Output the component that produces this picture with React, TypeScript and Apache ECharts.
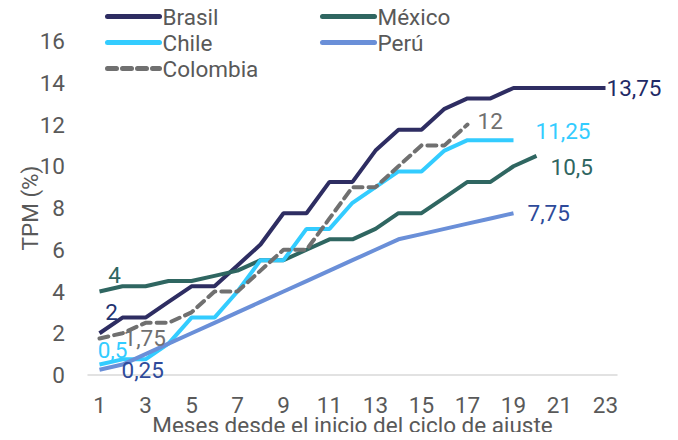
import React, { useEffect, useRef } from "react";
import * as echarts from "echarts";

// Months since the start of each tightening cycle
const months = Array.from({ length: 23 }, (_, i) => String(i + 1));

// Policy rate (TPM, %) by month of the cycle
const brasil = [2, 2.75, 2.75, 3.5, 4.25, 4.25, 5.25, 6.25, 7.75, 7.75, 9.25, 9.25, 10.75, 11.75, 11.75, 12.75, 13.25, 13.25, 13.75, 13.75, 13.75, 13.75, 13.75];
const mexico = [4, 4.25, 4.25, 4.5, 4.5, 4.75, 5, 5.5, 5.5, 6, 6.5, 6.5, 7, 7.75, 7.75, 8.5, 9.25, 9.25, 10, 10.5];
const chile = [0.5, 0.75, 0.75, 1.5, 2.75, 2.75, 4, 5.5, 5.5, 7, 7, 8.25, 9, 9.75, 9.75, 10.75, 11.25, 11.25, 11.25];
const peru = [0.25, 0.5, 1, 1.5, 2, 2.5, 3, 3.5, 4, 4.5, 5, 5.5, 6, 6.5, 6.75, 7, 7.25, 7.5, 7.75];
const colombia = [1.75, 2, 2.5, 2.5, 3, 4, 4, 5, 6, 6, 7.5, 9, 9, 10, 11, 11, 12];

const yTicks = [0, 2, 4, 6, 8, 10, 12, 14, 16];

const FONT = "Roboto";
const GREY = "#595959";
const FS = 22.5;

const fmt = (v: number) => String(v).replace(".", ",");

type LabelOpt = {
  color: string;
  position?: any;
  offset?: [number, number];
};

function withLabels(values: number[], start: LabelOpt, end: LabelOpt) {
  const last = values.length - 1;
  return values.map((v, i) => {
    const opt = i === 0 ? start : i === last ? end : null;
    if (!opt) return v;
    return {
      value: v,
      label: {
        show: true,
        formatter: (p: any) => fmt(p.value),
        color: opt.color,
        position: opt.position ?? "right",
        offset: opt.offset ?? [0, 0],
        distance: 0,
        fontFamily: FONT,
        fontSize: FS,
      },
    };
  });
}

function lineSeries(name: string, color: string, data: any[], dashed = false) {
  return {
    name,
    type: "line",
    data,
    symbol: "circle",
    symbolSize: 0,
    showSymbol: true,
    lineStyle: {
      color,
      width: 4,
      type: dashed ? [9, 6] : "solid",
      cap: dashed ? "round" : "butt",
    },
    itemStyle: { color },
    z: dashed ? 5 : 3,
  };
}

export default function App() {
  const ref = useRef<HTMLDivElement>(null);

  useEffect(() => {
    if (!ref.current) return;
    const chart = echarts.init(ref.current, null, { renderer: "svg" });

    const legendBase = {
      orient: "horizontal",
      itemWidth: 52,
      itemHeight: 6,
      itemGap: 6,
      itemStyle: { opacity: 0 },
      lineStyle: { width: 5, cap: "round" },
      textStyle: { fontFamily: FONT, fontSize: FS, color: GREY, padding: [0, 0, 0, -2] },
      padding: 0,
    };

    chart.setOption({
      animation: false,
      backgroundColor: "#ffffff",
      legend: [
        { ...legendBase, data: ["Brasil"], left: 105, top: 5 },
        { ...legendBase, data: ["México"], left: 320, top: 5 },
        { ...legendBase, data: ["Chile"], left: 105, top: 31 },
        { ...legendBase, data: ["Perú"], left: 320, top: 31 },
        { ...legendBase, data: ["Colombia"], left: 105, top: 57 },
      ],
      grid: { left: 88, right: 61, top: 41, bottom: 65, containLabel: false, outerBoundsMode: "none" },
      xAxis: {
        type: "category",
        data: months,
        boundaryGap: true,
        name: "Meses desde el inicio del ciclo de ajuste",
        nameLocation: "middle",
        nameGap: 38,
        nameMoveOverlap: false,
        nameTextStyle: { fontFamily: FONT, fontSize: FS, color: GREY },
        axisLine: { lineStyle: { color: "#d9d9d9", width: 1.5 } },
        axisTick: { show: false },
        axisLabel: {
          interval: 1,
          margin: 18,
          fontFamily: FONT,
          fontSize: FS,
          color: GREY,
        },
        splitLine: { show: false },
      },
      yAxis: {
        type: "value",
        min: yTicks[0],
        max: yTicks[yTicks.length - 1],
        interval: 2,
        name: "TPM (%)",
        nameLocation: "middle",
        nameGap: 47,
        nameMoveOverlap: false,
        nameRotate: 90,
        nameTextStyle: { fontFamily: FONT, fontSize: FS, color: GREY },
        axisLine: { show: false },
        axisTick: { show: false },
        splitLine: { show: false },
        axisLabel: { margin: 23, fontFamily: FONT, fontSize: FS, color: GREY },
      },
      series: [
        lineSeries(
          "Brasil",
          "#2E2D62",
          withLabels(
            brasil,
            { color: "#1F3370", position: "top", offset: [12, -10] },
            { color: "#1F2A66", position: "right", offset: [1, 0] }
          )
        ),
        lineSeries(
          "México",
          "#2F6661",
          withLabels(
            mexico,
            { color: "#2F6661", position: "top", offset: [15, -5] },
            { color: "#2F6661", position: "right", offset: [14, 11] }
          )
        ),
        lineSeries(
          "Chile",
          "#33CCFF",
          withLabels(
            chile,
            { color: "#33CCFF", position: "top", offset: [13, -3] },
            { color: "#33CCFF", position: "right", offset: [22, -9] }
          )
        ),
        lineSeries(
          "Perú",
          "#6A8FD8",
          withLabels(
            peru,
            { color: "#2E4A9A", position: "right", offset: [22, 0] },
            { color: "#2E4A9A", position: "right", offset: [14, 0] }
          )
        ),
        lineSeries(
          "Colombia",
          "#707070",
          withLabels(
            colombia,
            { color: "#707070", position: "right", offset: [24, 0] },
            { color: "#707070", position: "right", offset: [10, -4] }
          ),
          true
        ),
      ],
    });

    return () => chart.dispose();
  }, []);

  return <div ref={ref} style={{ width: 678, height: 440, margin: -8 }} />;
}
